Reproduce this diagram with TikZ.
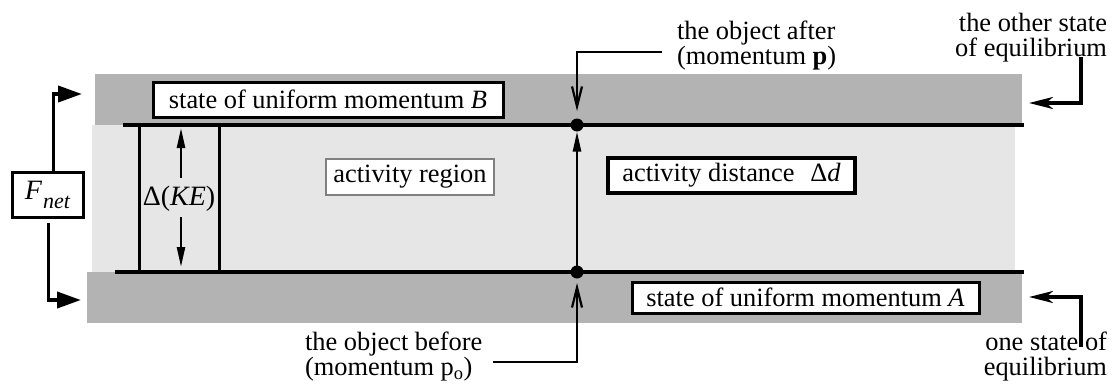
\documentclass[tikz,border=0pt]{standalone}
\usepackage{fontspec}
\setmainfont{Liberation Serif}
\usetikzlibrary{arrows.meta}

\definecolor{bandgray}{HTML}{B3B3B3}
\definecolor{activegray}{HTML}{E6E6E6}
\definecolor{framegray}{HTML}{808080}

\tikzset{
  lbl/.style={font=\fontsize{26.4}{24}\selectfont, inner sep=0pt, outer sep=0pt},
  band/.style={inner sep=0pt, outer sep=0pt},
  rule/.style={line width=3.6pt},
  statebox/.style={lbl, draw, fill=white, line width=3pt},
  regionbox/.style={lbl, draw=framegray, fill=white, line width=1.8pt},
  distbox/.style={lbl, draw, fill=white, line width=3.8pt},
  kebox/.style={lbl, draw, line width=3pt},
  dot/.style={circle, fill=black, inner sep=0pt, outer sep=0pt, minimum size=13pt},
  pointer/.style={line width=2.2pt, -{Straight Barb[length=20pt,width=10pt]}},
  spike/.style={line width=2.4pt, -{Triangle[length=20pt,width=8pt]}},
  fnetarrow/.style={line width=3.8pt, -{Triangle[length=24pt,width=16pt]}},
  eqarrow/.style={line width=3.5pt, -{Stealth[length=24pt,width=12pt,inset=7pt]}},
}

\begin{document}
\begin{tikzpicture}[x=1pt,y=-1pt]
\useasboundingbox (0,0) rectangle (1112,391);

% the two states of uniform momentum and the activity region between them
\node[band, fill=bandgray, minimum width=927pt, minimum height=51pt] (upperband) at (558.5,99.5) {};
\node[band, fill=bandgray, minimum width=935pt, minimum height=51pt] (lowerband) at (554.5,297.5) {};
\node[band, fill=activegray, minimum width=923pt, minimum height=147pt] (region) at (553.5,198.5) {};

% boundary lines
\draw[rule] (123,125) -- (1024,125);
\draw[rule] (115,272) -- (1024,272);

% labelled boxes
\node[statebox, minimum width=350pt, minimum height=35pt] (stateB) at (328,99.5) {state of uniform momentum \textit{B}};
\node[statebox, minimum width=347pt, minimum height=31pt] (stateA) at (805.5,297.5) {state of uniform momentum \textit{A}};
\node[regionbox, minimum width=168pt, minimum height=36pt] (actregion) at (410,177) {activity region};
\node[distbox, minimum width=247pt, minimum height=35pt] (actdist) at (731.5,175.5) {activity distance\hspace{0.6em}Δ\textit{d}};
\node[kebox, minimum width=80pt, minimum height=147pt] (ke) at (179,198.5) {\fontsize{28}{28}\selectfont Δ(\textit{KE})};
\node[statebox, minimum width=71pt, minimum height=45pt] (fnet) at (47.5,194.5)
  {\fontsize{28}{28}\selectfont\textit{F}\kern1pt\raisebox{-9pt}{\fontsize{22}{22}\selectfont\itshape net}};

% the object before and after
\node[dot] (after) at (577,125) {};
\node[dot] (before) at (577,272) {};
\draw[spike] (before) -- (after);

% change in kinetic energy
\coordinate (keup) at (181,178);
\coordinate (kedown) at (181,217);
\draw[spike, shorten >=3pt] (keup) -- (keup |- ke.north);
\draw[spike, shorten >=5pt] (kedown) -- (kedown |- ke.south);

% net force acting on both states
\coordinate (fup) at (82,94);
\coordinate (fdown) at (81,300);
\draw[fnetarrow] ([xshift=6pt]fnet.north) |- (fup);
\draw[fnetarrow] ([xshift=1pt,yshift=-6pt]fnet.south) |- (fdown);

% callouts
\node[lbl, anchor=base west] (afterlbl) at (677,39)
  {\begin{tabular}[t]{@{}l@{}}the object after\\(momentum \textbf{p})\end{tabular}};
\node[lbl, anchor=base west] (beforelbl) at (305,350)
  {\begin{tabular}[t]{@{}l@{}}the object before\\(momentum p\textsubscript{o})\end{tabular}};
\node[lbl, anchor=base east] (otherlbl) at (1107,31)
  {\begin{tabular}[t]{@{}r@{}}the other state\\of equilibrium\end{tabular}};
\node[lbl, anchor=base east] (onelbl) at (1107,350)
  {\begin{tabular}[t]{@{}r@{}}one state of\\equilibrium\end{tabular}};

\coordinate (afterend) at (662,52);
\coordinate (beforeend) at (493,362);
\draw[pointer] (afterend) -| ([yshift=7.5pt]after.north);
\draw[pointer] (beforeend) -| ([yshift=-4.5pt]before.south);

\coordinate (otherend) at (1081,57);
\coordinate (upperin) at (1029,103);
\coordinate (oneend) at (1081,347);
\coordinate (lowerin) at (1029,297);
\draw[eqarrow] (otherend) |- (upperin);
\draw[eqarrow] (oneend) |- (lowerin);
\end{tikzpicture}
\end{document}
